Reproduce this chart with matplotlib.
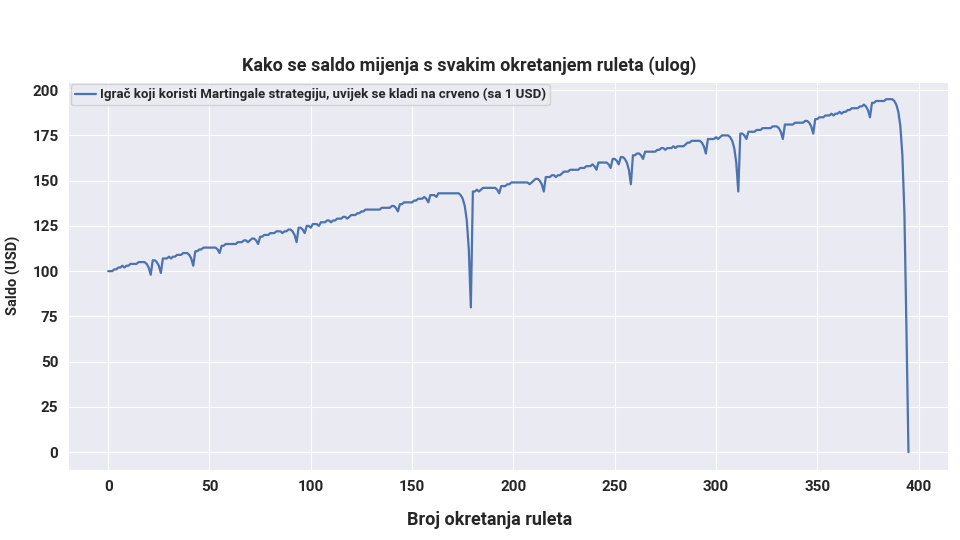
import matplotlib
matplotlib.use("Agg")
import seaborn as sns
from matplotlib import pyplot as plt

# saldo after each spin
saldo = [
    100, 100, 100, 101, 101, 102, 102, 103, 102, 103,
    103, 104, 104, 104, 104, 105, 105, 105, 105, 104,
    102, 98, 106, 106, 105, 103, 99, 107, 107, 107,
    108, 107, 108, 108, 109, 109, 109, 110, 110, 110,
    109, 107, 103, 111, 111, 112, 112, 113, 113, 113,
    113, 113, 113, 113, 112, 110, 114, 114, 115, 115,
    115, 115, 115, 115, 116, 116, 116, 117, 117, 116,
    117, 118, 118, 117, 115, 119, 119, 120, 120, 120,
    121, 121, 121, 122, 122, 122, 121, 122, 122, 123,
    123, 122, 120, 116, 124, 124, 123, 121, 125, 125,
    124, 126, 126, 126, 125, 127, 127, 127, 128, 128,
    127, 128, 128, 129, 129, 129, 130, 130, 129, 130,
    131, 131, 131, 132, 132, 133, 133, 134, 134, 134,
    134, 134, 134, 134, 134, 135, 135, 135, 135, 135,
    136, 136, 135, 133, 137, 137, 138, 138, 138, 138,
    138, 139, 139, 140, 140, 140, 141, 140, 138, 142,
    142, 142, 141, 143, 143, 143, 143, 143, 143, 143,
    143, 143, 143, 143, 142, 140, 136, 128, 112, 80,
    144, 144, 145, 144, 145, 146, 146, 146, 146, 146,
    146, 146, 145, 143, 147, 147, 147, 148, 148, 149,
    149, 149, 149, 149, 149, 149, 149, 149, 148, 149,
    150, 151, 151, 150, 148, 144, 152, 152, 152, 153,
    153, 152, 153, 153, 154, 155, 155, 155, 156, 156,
    156, 156, 156, 157, 157, 157, 158, 158, 158, 159,
    158, 156, 160, 160, 160, 160, 160, 159, 157, 162,
    162, 161, 159, 163, 163, 162, 160, 156, 148, 164,
    164, 165, 165, 164, 162, 166, 166, 166, 166, 166,
    166, 167, 167, 168, 168, 167, 168, 168, 168, 169,
    168, 169, 169, 169, 169, 170, 171, 171, 172, 172,
    172, 172, 172, 171, 169, 165, 173, 173, 173, 173,
    174, 173, 174, 175, 175, 175, 175, 174, 172, 168,
    160, 144, 176, 176, 175, 173, 177, 177, 177, 177,
    178, 178, 178, 179, 179, 179, 179, 179, 180, 180,
    180, 179, 177, 173, 181, 181, 181, 181, 181, 182,
    182, 182, 182, 182, 183, 183, 182, 180, 176, 184,
    184, 185, 185, 185, 186, 186, 186, 187, 186, 187,
    187, 188, 187, 188, 188, 189, 189, 190, 190, 190,
    190, 191, 191, 192, 191, 189, 185, 193, 193, 194,
    194, 194, 194, 194, 195, 195, 195, 195, 194, 192,
    188, 180, 164, 132, 68, 0,
]
okretaji = list(range(len(saldo)))

naslov = "Kako se saldo mijenja s svakim okretanjem ruleta (ulog)"
oznaka = "Igrač koji koristi Martingale strategiju, uvijek se kladi na crveno (sa 1 USD)"

sns.set_style("darkgrid")
plt.rcParams['font.family'] = ['Roboto', 'DejaVu Sans']
plt.rcParams['font.weight'] = 'bold'

fig = plt.figure(figsize=(9.6, 5.4), dpi=100)
ax = fig.add_axes([0.071, 0.130, 0.917, 0.719])

ax.plot(okretaji, saldo, color="#4c72b0", linewidth=1.6, label=oznaka)

ax.set_title(naslov, fontsize=13, fontweight='bold', pad=8, x=0.456)
ax.set_xlabel("Broj okretanja ruleta", fontsize=13, fontweight='bold', labelpad=9)
ax.xaxis.set_label_coords(0.479, -0.105)
ax.set_ylabel("Saldo (USD)", fontsize=10.5, fontweight='bold', labelpad=8)
ax.set_xticks(range(0, 401, 50))
ax.set_yticks(range(0, 201, 25))
ax.tick_params(labelsize=11)
for t in ax.get_xticklabels() + ax.get_yticklabels():
    t.set_fontweight('bold')

leg = ax.legend(loc='upper left', fontsize=9.5, borderaxespad=0.2,
                handlelength=1.6, handletextpad=0.3, borderpad=0.3)
for t in leg.get_texts():
    t.set_fontweight('bold')

fig.savefig("out.png", dpi=100)
